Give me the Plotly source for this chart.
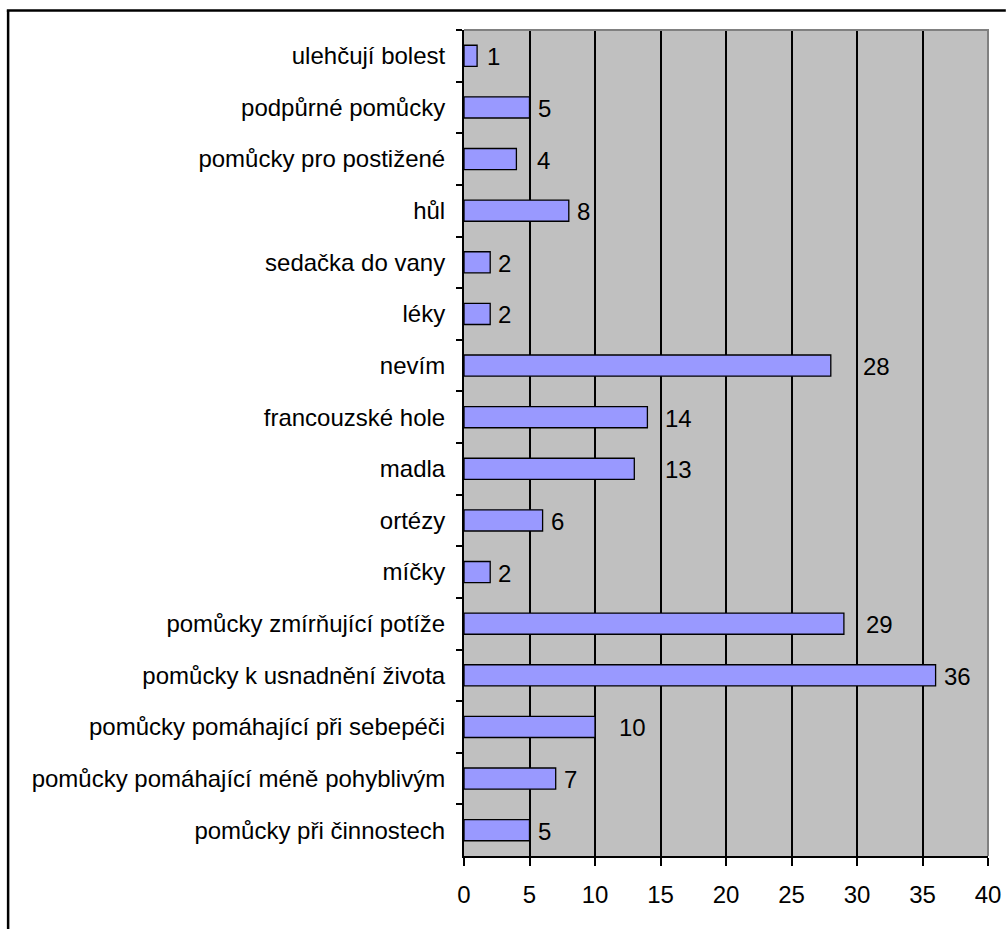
import plotly.graph_objects as go

categories = [
    "ulehčují bolest",
    "podpůrné pomůcky",
    "pomůcky pro postižené",
    "hůl",
    "sedačka do vany",
    "léky",
    "nevím",
    "francouzské hole",
    "madla",
    "ortézy",
    "míčky",
    "pomůcky zmírňující potíže",
    "pomůcky k usnadnění života",
    "pomůcky pomáhající při sebepéči",
    "pomůcky pomáhající méně pohyblivým",
    "pomůcky při činnostech",
]
values = [1, 5, 4, 8, 2, 2, 28, 14, 13, 6, 2, 29, 36, 10, 7, 5]
x_ticks = [0, 5, 10, 15, 20, 25, 30, 35, 40]

# pixel gap between bar end and its value label (as placed in the original)
label_gap_px = [9, 7, 20, 7, 7, 7, 31, 17, 30, 7, 7, 21, 7, 23, 7, 7]

FONT = "Liberation Sans, Arial, sans-serif"
FS = 24

fig = go.Figure()
fig.add_trace(go.Bar(
    y=categories,
    x=values,
    orientation="h",
    marker=dict(color="#9999FF", line=dict(color="#000000", width=1.3)),
    hoverinfo="x+y",
))

for cat, val, gap in zip(categories, values, label_gap_px):
    fig.add_annotation(
        x=val, y=cat, xref="x", yref="y",
        text=str(val), showarrow=False,
        xanchor="left", yanchor="middle",
        xshift=gap - 1, yshift=-1,
        font=dict(family=FONT, size=FS, color="#000000"),
    )

# plot-area border (top and right, grey)
fig.add_shape(type="path", xref="paper", yref="paper",
              path="M 0,1 L 1,1 L 1,0",
              line=dict(color="#808080", width=2), layer="above")
# outer chart frame (left and top edges; the rest runs off the picture)
fig.add_shape(type="line", xref="paper", yref="paper",
              x0=-0.870, x1=-0.870, y0=-0.1, y1=1.0236,
              line=dict(color="#000000", width=2.5), layer="below")
fig.add_shape(type="line", xref="paper", yref="paper",
              x0=-0.8725, x1=1.034, y0=1.0236, y1=1.0236,
              line=dict(color="#000000", width=2.5), layer="below")

fig.update_layout(
    width=1007, height=929,
    margin=dict(l=464, r=19, t=30, b=73),
    paper_bgcolor="#FFFFFF",
    plot_bgcolor="#C0C0C0",
    bargap=0.59,
    showlegend=False,
    font=dict(family=FONT, size=FS, color="#000000"),
    xaxis=dict(
        range=[0, 40],
        tickvals=x_ticks,
        ticktext=[str(t) for t in x_ticks],
        showgrid=True, gridcolor="#000000", gridwidth=1.5,
        zeroline=False,
        showline=True, linecolor="#000000", linewidth=2,
        ticks="outside", ticklen=8, tickcolor="#000000", tickwidth=1.5,
        ticklabelstandoff=8,
        automargin=False,
        tickfont=dict(family=FONT, size=FS, color="#000000"),
        fixedrange=True,
    ),
    yaxis=dict(
        type="category",
        categoryorder="array",
        categoryarray=categories,
        autorange="reversed",
        showgrid=False,
        showline=True, linecolor="#000000", linewidth=2,
        ticks="outside", ticklen=6, tickcolor="#000000", tickwidth=1.5,
        tickson="boundaries",
        ticklabelstandoff=12,
        automargin=False,
        tickfont=dict(family=FONT, size=FS, color="#000000"),
        fixedrange=True,
    ),
)

fig.write_html("out.html")
